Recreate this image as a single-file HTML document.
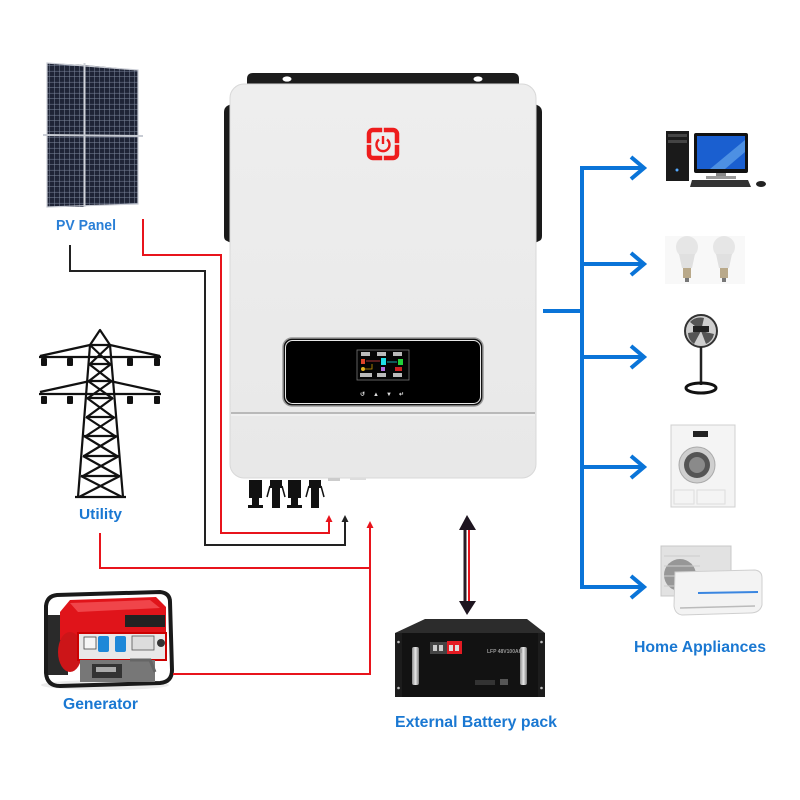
<!DOCTYPE html>
<html><head><meta charset="utf-8"><style>
html,body{margin:0;padding:0;background:#fff;}
svg{display:block;}
text{font-family:"Liberation Sans",Arial,sans-serif;font-weight:bold;}
</style></head><body>
<svg width="800" height="800" viewBox="0 0 800 800" xmlns="http://www.w3.org/2000/svg">
<defs>
<pattern id="cells" x="0" y="0" width="5" height="5.5" patternUnits="userSpaceOnUse">
<rect width="5" height="5.5" fill="#1f2436"/>
<path d="M0 5.2H5M4.7 0V5.5" stroke="#7d869c" stroke-width="0.5"/>
</pattern>
<linearGradient id="body" x1="0" y1="0" x2="0" y2="1">
<stop offset="0" stop-color="#eeeeee"/><stop offset="1" stop-color="#e8e8e8"/>
</linearGradient>
<linearGradient id="silver" x1="0" y1="0" x2="1" y2="0">
<stop offset="0" stop-color="#8a8a8a"/><stop offset="0.5" stop-color="#e8e8e8"/><stop offset="1" stop-color="#7a7a7a"/>
</linearGradient>
</defs>

<!-- Solar panel -->
<path d="M47 63 L84 65 L84 207 L47 207 Z" fill="url(#cells)"/>
<path d="M85 65 L138 70 L138 204 L85 206 Z" fill="url(#cells)"/>
<path d="M47 63 L138 70 L138 204 L47 207 Z" fill="none" stroke="#c9ccd4" stroke-width="1.2"/>
<line x1="84.5" y1="63" x2="84.5" y2="207" stroke="#d0d3da" stroke-width="2"/>
<line x1="43" y1="135" x2="143" y2="136" stroke="#c8ccd4" stroke-width="2"/>
<text x="56" y="230" font-size="15" fill="#2a7fd6" textLength="60" lengthAdjust="spacingAndGlyphs">PV Panel</text>

<!-- Tower -->
<g stroke="#111" stroke-width="2.2" fill="none" stroke-linejoin="round">
<path d="M100 330 L90 345 L110 345 Z"/>
<path d="M90 345 L78 497 M110 345 L123 497 M75 497 H126"/>
<path d="M90 345 L40 356 M110 345 L160 356 M39 357 H161"/>
<path d="M90 381 L40 392 M110 381 L160 392 M39 394 H161"/>
<path d="M90 345 L110 364 M110 345 L90 364 M89 364 H111"/>
<path d="M89 364 L111 381 M111 364 L89 381 M88 381 H112"/>
<path d="M88 381 L112 398 M112 381 L88 398 M87 398 H113"/>
<path d="M87 398 L113 417 M113 398 L87 417 M86 417 H114"/>
<path d="M86 417 L115 436 M115 417 L86 436 M84 436 H116"/>
<path d="M84 436 L117 456 M117 436 L84 456 M83 456 H118"/>
<path d="M83 456 L119 476 M119 456 L83 476 M81 476 H120"/>
<path d="M81 476 L122 497 M120 476 L79 497"/>
</g>
<g fill="#111">
<rect x="41" y="358" width="6" height="8" rx="1"/><rect x="67" y="358" width="6" height="8" rx="1"/>
<rect x="127" y="358" width="6" height="8" rx="1"/><rect x="154" y="358" width="6" height="8" rx="1"/>
<rect x="41" y="396" width="6" height="8" rx="1"/><rect x="67" y="396" width="6" height="8" rx="1"/>
<rect x="127" y="396" width="6" height="8" rx="1"/><rect x="154" y="396" width="6" height="8" rx="1"/>
</g>
<text x="79" y="519" font-size="15" fill="#1a78d2" textLength="43" lengthAdjust="spacingAndGlyphs">Utility</text>

<!-- Generator -->
<g>
<ellipse cx="105" cy="685" rx="64" ry="5" fill="#ddd" opacity="0.6"/>
<rect x="46" y="615" width="22" height="60" fill="#2a2a2a"/>
<path d="M46 606 Q47 596 57 595 L160 592 Q170 593 170 602 L172 670 Q172 682 160 683 L60 686 Q47 686 46 673 Z" fill="none" stroke="#1a1a1a" stroke-width="4"/>
<path d="M60 612 L70 600 L156 597 L166 607 L166 640 L76 646 L60 640 Z" fill="#e0141a"/>
<path d="M70 603 L150 600 L160 608 L78 612 Z" fill="#f0454a"/>
<rect x="125" y="615" width="40" height="12" fill="#222"/>
<ellipse cx="70" cy="652" rx="12" ry="20" fill="#cc1518"/>
<rect x="78" y="633" width="88" height="27" fill="#e8e8e8" stroke="#c00" stroke-width="2"/>
<rect x="84" y="637" width="12" height="12" fill="#f5f5f5" stroke="#444" stroke-width="0.8"/>
<rect x="98" y="636" width="11" height="16" rx="2" fill="#1e88d8"/>
<rect x="115" y="636" width="11" height="16" rx="2" fill="#1e88d8"/>
<rect x="132" y="636" width="22" height="14" fill="#ddd" stroke="#555" stroke-width="0.8"/>
<circle cx="161" cy="643" r="4" fill="#333"/>
<rect x="80" y="660" width="75" height="22" fill="#777"/>
<rect x="92" y="664" width="30" height="14" fill="#333"/>
<rect x="96" y="667" width="20" height="5" fill="#aaa"/>
<path d="M130 660 L150 660 L155 672" stroke="#666" stroke-width="3" fill="none"/>
</g>
<text x="63" y="709" font-size="16" fill="#1a78d2" textLength="75" lengthAdjust="spacingAndGlyphs">Generator</text>

<!-- Wires -->
<g fill="none" stroke-linejoin="miter">
<polyline points="143,219 143,255 221,255 221,533 329,533 329,521" stroke="#e8141c" stroke-width="2"/>
<polyline points="70,245 70,271 205,271 205,545 345,545 345,521" stroke="#222" stroke-width="2"/>
<polyline points="100,533 100,568 370,568" stroke="#e8141c" stroke-width="2"/>
<polyline points="173,674 370,674 370,527" stroke="#e8141c" stroke-width="2"/>
</g>
<path d="M329 515 L325.5 522 L332.5 522 Z" fill="#e8141c"/>
<path d="M345 515 L341.5 522 L348.5 522 Z" fill="#222"/>
<path d="M370 521 L366.5 528 L373.5 528 Z" fill="#e8141c"/>

<!-- Battery arrow -->
<line x1="465" y1="528" x2="465" y2="603" stroke="#2a1e26" stroke-width="3"/>
<line x1="469" y1="528" x2="469" y2="603" stroke="#e8141c" stroke-width="2"/>
<path d="M467 515 L459 530 L476 530 Z" fill="#1e1520"/>
<path d="M467 615 L459 601 L476 601 Z" fill="#1e1520"/>

<!-- Inverter -->
<path d="M247 90 L247 79 Q247 73 253 73 L513 73 Q519 73 519 79 L519 90 Z" fill="#1c1c1c"/>
<ellipse cx="287" cy="79" rx="4.5" ry="2.6" fill="#fff"/>
<ellipse cx="478" cy="79" rx="4.5" ry="2.6" fill="#fff"/>
<path d="M231 104 L227 106 Q224 108 224 112 L224 236 Q224 240 227 241 L231 243 Z" fill="#1a1a1a"/>
<path d="M535 104 L539 106 Q542 108 542 112 L542 236 Q542 240 539 241 L535 243 Z" fill="#1a1a1a"/>
<rect x="230" y="84" width="306" height="394" rx="14" fill="url(#body)" stroke="#d8d8d8" stroke-width="1"/>
<line x1="231" y1="413" x2="535" y2="413" stroke="#a9a9a9" stroke-width="1.5"/>
<line x1="231" y1="415" x2="535" y2="415" stroke="#f6f6f6" stroke-width="1"/>
<!-- power logo -->
<rect x="369" y="130" width="28" height="28" rx="4" fill="none" stroke="#ee1c1c" stroke-width="4.5"/>
<g stroke="#ececec" stroke-width="1.6">
<line x1="383" y1="126" x2="383" y2="134"/><line x1="383" y1="154" x2="383" y2="162"/>
<line x1="365" y1="144" x2="373" y2="144"/><line x1="393" y1="144" x2="401" y2="144"/>
</g>
<path d="M379 139.5 A6.5 6.5 0 1 0 387 139.5" fill="none" stroke="#ee1c1c" stroke-width="2.4"/>
<line x1="383" y1="136" x2="383" y2="144" stroke="#ee1c1c" stroke-width="2.4"/>
<!-- display -->
<rect x="283" y="338" width="200" height="68" rx="9" fill="#111" stroke="#9a9a9a" stroke-width="1.5"/>
<rect x="285.5" y="340.5" width="195" height="63" rx="7" fill="#000" stroke="#e8e8e8" stroke-width="1"/>
<rect x="357" y="350" width="52" height="30" fill="#050505" stroke="#777" stroke-width="0.8"/>
<g fill="#bbb">
<rect x="361" y="352" width="9" height="4"/><rect x="377" y="352" width="9" height="4"/><rect x="393" y="352" width="9" height="4"/>
<rect x="360" y="373" width="12" height="4"/><rect x="377" y="373" width="9" height="4"/><rect x="393" y="373" width="9" height="4"/>
</g>
<rect x="361" y="359" width="4" height="5" fill="#e0452a"/>
<line x1="366" y1="361" x2="380" y2="361" stroke="#a33" stroke-width="1"/>
<rect x="381" y="358" width="5" height="7" fill="#1fe0e6"/>
<line x1="387" y1="362" x2="397" y2="362" stroke="#1aa" stroke-width="1"/>
<rect x="398" y="359" width="5" height="6" fill="#22d13a"/>
<circle cx="363" cy="369" r="2" fill="#e0b020"/>
<path d="M365 369 H372 V364" stroke="#c90" stroke-width="0.8" fill="none"/>
<rect x="381" y="367" width="4" height="4" fill="#b070e0"/>
<rect x="395" y="367" width="7" height="4" fill="#c22"/>
<g fill="#ddd" font-size="6">
<text x="360" y="396" font-weight="normal">↺</text>
<text x="373" y="396" font-weight="normal">▲</text>
<text x="386" y="396" font-weight="normal">▼</text>
<text x="399" y="396" font-weight="normal">↵</text>
</g>
<!-- bottom connectors -->
<rect x="328" y="478" width="12" height="3" fill="#ccc"/>
<rect x="350" y="478" width="16" height="2" fill="#ddd"/>
<g fill="#111">
<rect x="249" y="480" width="13" height="18"/><rect x="252" y="497" width="7" height="9"/><rect x="248" y="505" width="15" height="3"/>
<rect x="288" y="480" width="13" height="18"/><rect x="291" y="497" width="7" height="9"/><rect x="287" y="505" width="15" height="3"/>
<rect x="270" y="480" width="12" height="8"/><rect x="272" y="487" width="8" height="21"/>
<path d="M270 486 L267 497 M282 486 L285 497" stroke="#111" stroke-width="1.5"/>
<rect x="309" y="480" width="12" height="8"/><rect x="311" y="487" width="8" height="21"/>
<path d="M309 486 L306 497 M321 486 L324 497" stroke="#111" stroke-width="1.5"/>
</g>

<!-- Battery -->
<path d="M425 619 L527 619 L545 633 L395 633 Z" fill="#2c2c2c"/>
<rect x="395" y="633" width="150" height="64" fill="#121212"/>
<rect x="395" y="633" width="7" height="64" fill="#1c1c1c"/>
<rect x="538" y="633" width="7" height="64" fill="#1c1c1c"/>
<circle cx="398.5" cy="642" r="1.3" fill="#bbb"/><circle cx="398.5" cy="688" r="1.3" fill="#bbb"/>
<circle cx="541.5" cy="642" r="1.3" fill="#bbb"/><circle cx="541.5" cy="688" r="1.3" fill="#bbb"/>
<rect x="412" y="647" width="7" height="38" rx="2" fill="url(#silver)"/>
<rect x="520" y="647" width="7" height="38" rx="2" fill="url(#silver)"/>
<rect x="430" y="642" width="32" height="12" fill="#444"/>
<rect x="447" y="641" width="15" height="13" fill="#e31b23"/>
<rect x="433" y="645" width="4" height="6" fill="#ccc"/><rect x="439" y="645" width="4" height="6" fill="#ccc"/>
<rect x="449" y="645" width="4" height="6" fill="#ddd"/><rect x="455" y="645" width="4" height="6" fill="#ddd"/>
<text x="487" y="653" font-size="5" fill="#999" font-weight="normal">LFP 48V100AH</text>
<rect x="475" y="680" width="20" height="5" fill="#333"/>
<rect x="500" y="679" width="8" height="6" fill="#555"/>
<text x="395" y="727" font-size="16" fill="#1a78d2" textLength="162" lengthAdjust="spacingAndGlyphs">External Battery pack</text>

<!-- Blue lines -->
<g stroke="#0a74d8" stroke-width="4" fill="none">
<line x1="582" y1="166" x2="582" y2="589"/>
<line x1="543" y1="311" x2="582" y2="311"/>
<line x1="580" y1="168" x2="643" y2="168"/>
<line x1="580" y1="264" x2="643" y2="264"/>
<line x1="580" y1="357" x2="643" y2="357"/>
<line x1="580" y1="467" x2="643" y2="467"/>
<line x1="580" y1="587" x2="643" y2="587"/>
<g stroke-linejoin="miter">
<polyline points="631,157 644,168 631,179"/>
<polyline points="631,253 644,264 631,275"/>
<polyline points="631,346 644,357 631,368"/>
<polyline points="631,456 644,467 631,478"/>
<polyline points="631,576 644,587 631,598"/>
</g>
</g>

<!-- Computer -->
<rect x="666" y="131" width="23" height="50" fill="#1a1a1a"/>
<rect x="668" y="134" width="19" height="3" fill="#444"/><rect x="668" y="140" width="19" height="3" fill="#444"/>
<circle cx="677" cy="170" r="1.5" fill="#5af"/>
<rect x="694" y="133" width="54" height="40" rx="2" fill="#111"/>
<rect x="697" y="136" width="48" height="33" fill="#1a5fd0"/>
<path d="M710 169 L745 140 L745 152 L725 169 Z" fill="#6fb0f0" opacity="0.6"/>
<rect x="716" y="173" width="10" height="5" fill="#888"/>
<rect x="706" y="176" width="30" height="3" fill="#999"/>
<path d="M692 180 L748 180 L751 187 L690 187 Z" fill="#333"/>
<ellipse cx="761" cy="184" rx="5" ry="3" fill="#222"/>

<!-- Bulbs -->
<rect x="665" y="236" width="80" height="48" fill="#f8f8f8"/>
<g>
<circle cx="687" cy="247" r="11" fill="#e6e6e6"/><path d="M679 254 L695 254 L692 268 L682 268 Z" fill="#e0e0e0"/>
<rect x="683" y="268" width="8" height="10" fill="#b9a98a"/><rect x="685" y="278" width="4" height="4" fill="#777"/>
<circle cx="724" cy="247" r="11" fill="#e6e6e6"/><path d="M716 254 L732 254 L729 268 L719 268 Z" fill="#e0e0e0"/>
<rect x="720" y="268" width="8" height="10" fill="#b9a98a"/><rect x="722" y="278" width="4" height="4" fill="#777"/>
</g>

<!-- Fan -->
<circle cx="701" cy="331" r="16" fill="#cfcfcf" stroke="#333" stroke-width="2"/>
<path d="M701 331 L690 322 A14 14 0 0 1 704 318 Z M701 331 L714 334 A14 14 0 0 1 706 344 Z M701 331 L694 344 A14 14 0 0 1 688 333 Z" fill="#555"/>
<rect x="693" y="326" width="16" height="6" fill="#222"/>
<line x1="701" y1="347" x2="701" y2="385" stroke="#222" stroke-width="2.5"/>
<ellipse cx="701" cy="388" rx="15" ry="5" fill="none" stroke="#111" stroke-width="3"/>

<!-- Washing machine -->
<rect x="671" y="425" width="64" height="82" fill="#f4f4f4" stroke="#d0d0d0" stroke-width="1"/>
<rect x="693" y="431" width="15" height="6" fill="#222"/>
<circle cx="697" cy="465" r="18" fill="#cfcfcf" stroke="#aaa" stroke-width="1"/>
<circle cx="697" cy="465" r="13" fill="#555"/>
<circle cx="697" cy="465" r="8" fill="#8a8a8a"/>
<rect x="674" y="490" width="20" height="14" fill="none" stroke="#ddd" stroke-width="1"/>
<rect x="697" y="490" width="28" height="14" fill="none" stroke="#ddd" stroke-width="1"/>

<!-- AC -->
<rect x="661" y="546" width="70" height="50" fill="#e2e2e2" stroke="#c8c8c8" stroke-width="1"/>
<circle cx="680" cy="575" r="16" fill="#777" opacity="0.7"/>
<path d="M664 556 H700 M664 566 H700 M664 576 H700 M664 586 H700" stroke="#ccc" stroke-width="1"/>
<path d="M675 572 L755 570 Q762 571 762 578 L762 605 Q760 613 750 613 L682 615 Q675 614 674 606 Z" fill="#f3f3f3" stroke="#cfcfcf" stroke-width="1"/>
<line x1="698" y1="593" x2="758" y2="592" stroke="#3a86e0" stroke-width="2"/>
<path d="M680 608 L755 606" stroke="#bbb" stroke-width="1.5"/>
<text x="634" y="652" font-size="16" fill="#1a78d2" textLength="132" lengthAdjust="spacingAndGlyphs">Home Appliances</text>
</svg>
</body></html>
